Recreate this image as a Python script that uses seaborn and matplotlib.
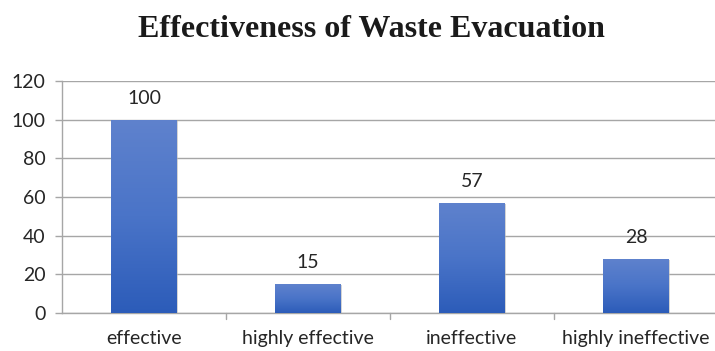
import numpy as np
import pandas as pd
import matplotlib
matplotlib.use("Agg")
import matplotlib.pyplot as plt
import seaborn as sns

categories = ["effective", "highly effective", "ineffective", "highly ineffective"]
responses = [100, 15, 57, 28]
y_ticks = [0, 20, 40, 60, 80, 100, 120]

df = pd.DataFrame({"category": categories, "count": responses})

sns.set_theme(style="white")
plt.rcParams["font.family"] = ["Lato", "DejaVu Sans"]

fig = plt.figure(figsize=(7.15, 3.51), dpi=100)
ax = fig.add_axes([62 / 715, 38 / 351, 656 / 715, 232 / 351])

sns.barplot(data=df, x="category", y="count", color="#3f6cc4", width=0.40,
            ax=ax, zorder=3)

# vertical gradient fill with a soft shadow for each bar
grad = np.linspace(0, 1, 256).reshape(-1, 1)
cmap = matplotlib.colors.LinearSegmentedColormap.from_list(
    "bar", ["#2c5cb9", "#4a74c8", "#5f82cd"])
for p in ax.patches:
    x0, y0 = p.get_x(), p.get_y()
    w, h = p.get_width(), p.get_height()
    shadow = matplotlib.patches.Rectangle((x0 + 0.01, y0), w, h - 0.6,
                                          facecolor="#b8b8b8", edgecolor="none",
                                          alpha=0.6, zorder=2)
    ax.add_patch(shadow)
    p.set_facecolor("none")
    p.set_edgecolor("none")
    im = ax.imshow(grad, extent=[x0, x0 + w, y0, y0 + h], origin="lower",
                   cmap=cmap, aspect="auto", zorder=3)
    im.set_clip_path(p)

for i, v in enumerate(responses):
    ax.text(i, v + 6.5, f"{v}", ha="center", va="bottom", fontsize=14,
            color="#262626")

ax.set_xlim(-0.5, 3.5)
ax.set_ylim(0, 120)
ax.set_yticks(y_ticks)
ax.set_yticklabels([str(t) for t in y_ticks], fontsize=14, color="#262626")
ax.set_xticks(range(len(categories)))
ax.set_xticklabels(categories, fontsize=14, color="#262626")
ax.tick_params(axis="x", length=0, pad=12)
ax.tick_params(axis="y", length=5, width=1, color="#a6a6a6", left=True, pad=7)

# category separators below the x axis
for b in [0.5, 1.5, 2.5]:
    ax.plot([b, b], [0, -3], color="#a6a6a6", lw=1, clip_on=False, zorder=4)

ax.yaxis.grid(True, color="#a6a6a6", lw=1)
ax.set_axisbelow(True)
ax.set_xlabel("")
ax.set_ylabel("")
for side in ["top", "right"]:
    ax.spines[side].set_visible(False)
for side in ["left", "bottom"]:
    ax.spines[side].set_color("#a6a6a6")
    ax.spines[side].set_linewidth(1)

fig.text(0.519, 0.915, "Effectiveness of Waste Evacuation", ha="center",
         va="center", fontsize=23, fontweight="bold",
         family=["Liberation Serif", "DejaVu Serif"], color="#1a1a1a")

fig.savefig("out.png", dpi=100)
